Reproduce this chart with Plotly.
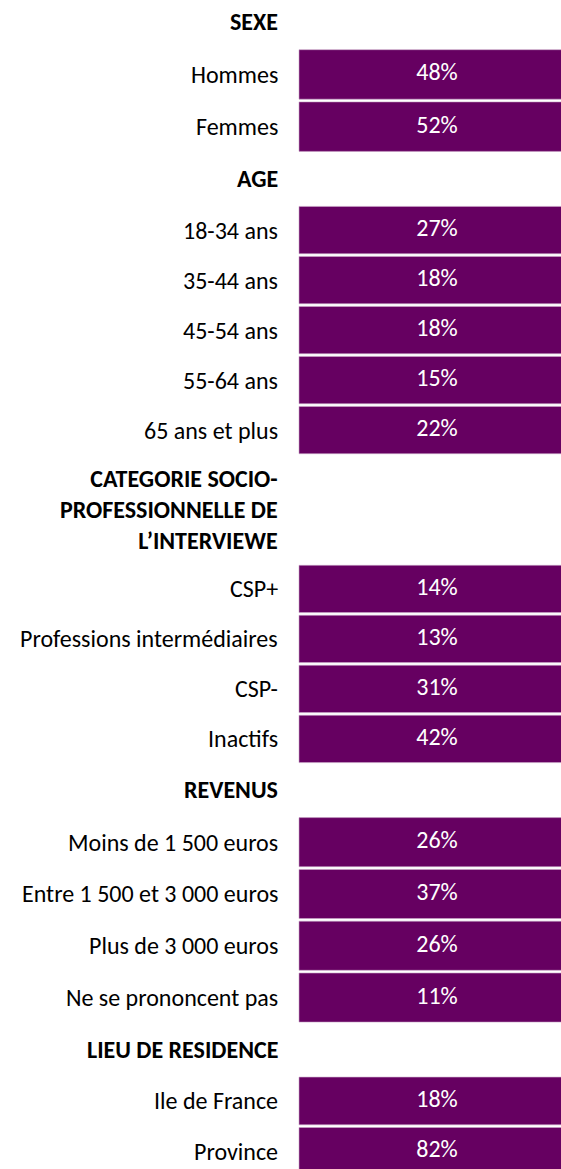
import plotly.graph_objects as go

# ---- data ----
group_titles = ["SEXE", "AGE", "CATEGORIE SOCIO-<br>PROFESSIONNELLE DE<br>L’INTERVIEWE", "REVENUS", "LIEU DE RESIDENCE"]
sexe_labels = ["Hommes", "Femmes"]
sexe_values = [48, 52]
age_labels = ["18-34 ans", "35-44 ans", "45-54 ans", "55-64 ans", "65 ans et plus"]
age_values = [27, 18, 18, 15, 22]
csp_labels = ["CSP+", "Professions intermédiaires", "CSP-", "Inactifs"]
csp_values = [14, 13, 31, 42]
rev_labels = ["Moins de 1 500 euros", "Entre 1 500 et 3 000 euros", "Plus de 3 000 euros", "Ne se prononcent pas"]
rev_values = [26, 37, 26, 11]
lieu_labels = ["Ile de France", "Province"]
lieu_values = [18, 82]

groups = [
    (group_titles[0], sexe_labels, sexe_values),
    (group_titles[1], age_labels, age_values),
    (group_titles[2], csp_labels, csp_values),
    (group_titles[3], rev_labels, rev_values),
    (group_titles[4], lieu_labels, lieu_values),
]

# ---- layout constants (pixels) ----
W, H = 561, 1169
FONT = "Calibri, Carlito, Lato, sans-serif"
PURPLE = "#660061"
FS = 24
FS_HEAD = 24
box_heights = [49.5, 47.3, 47.3, 49.1, 47.7]
row_gap = 2.7
header_line = 28.3
head_to_box = 28.0
box_to_head = 27.0
first_header = 21.7
box_left = 299.0
box_len = 276.0
label_right = 280.0

annotations = []
bar_y, bar_w, bar_text = [], [], []
y = first_header
for gi, (title, labels, values) in enumerate(groups):
    nlines = title.count("<br>") + 1
    hy = y + (nlines - 1) * header_line / 2
    annotations.append(dict(x=label_right, y=hy, xref="x", yref="y", text="<b>" + title + "</b>",
                            xanchor="right", yanchor="middle", align="right", showarrow=False,
                            font=dict(family=FONT, size=FS_HEAD, color="#000000")))
    top = y + (nlines - 1) * header_line + head_to_box
    bh = box_heights[gi]
    for lab, val in zip(labels, values):
        c = top + bh / 2
        bar_y.append(c)
        bar_w.append(bh)
        bar_text.append(f"{val}%")
        annotations.append(dict(x=label_right, y=c, xref="x", yref="y", text=lab,
                                xanchor="right", yanchor="middle", showarrow=False,
                                font=dict(family=FONT, size=FS, color="#000000")))
        top += bh + row_gap
    y = top - row_gap + box_to_head

fig = go.Figure()
fig.add_trace(go.Bar(
    orientation="h", y=bar_y, x=[box_len] * len(bar_y), base=box_left, width=bar_w,
    marker=dict(color=PURPLE, line=dict(color="#c9a6c8", width=0.6)),
    hoverinfo="skip", showlegend=False,
))
fig.add_trace(go.Scatter(
    x=[box_left + box_len / 2] * len(bar_y), y=bar_y, mode="text", text=bar_text,
    textposition="middle center", textfont=dict(family=FONT, size=FS, color="#ffffff"),
    hoverinfo="skip", showlegend=False,
))

fig.update_layout(
    width=W, height=H, margin=dict(l=0, r=0, t=0, b=0),
    paper_bgcolor="white", plot_bgcolor="white",
    xaxis=dict(range=[0, W], visible=False, fixedrange=True),
    yaxis=dict(range=[H, 0], visible=False, fixedrange=True),
    annotations=annotations,
)
fig.write_html("out.html", config={"displayModeBar": False},
               post_script="document.body.style.margin='0';document.body.style.overflow='hidden';")
